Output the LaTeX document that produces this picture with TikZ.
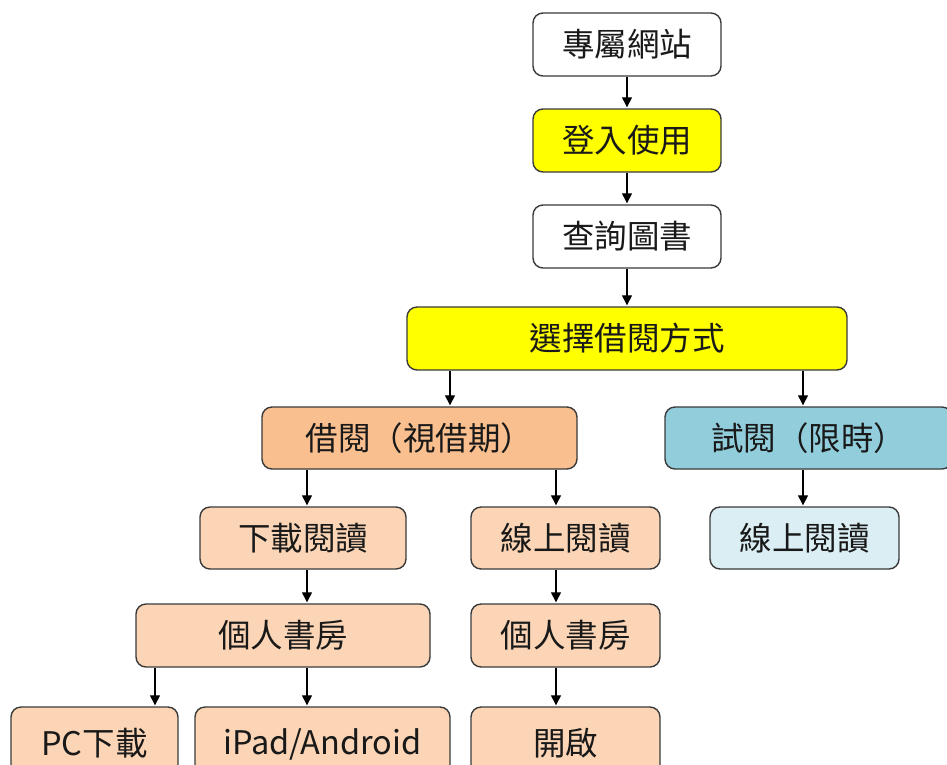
\documentclass[tikz,border=0pt]{standalone}
\usepackage{fontspec}
\setmainfont{Noto Sans CJK TC}
\usetikzlibrary{arrows.meta}
\definecolor{yel}{HTML}{FFFF00}
\definecolor{peach}{HTML}{F9BF8F}
\definecolor{lpeach}{HTML}{FBD5B5}
\definecolor{blu}{HTML}{92CDDC}
\definecolor{lblu}{HTML}{DAEEF3}
\definecolor{edge}{HTML}{3A3A3A}
\tikzset{
  box/.style={draw=edge, line width=1.4pt, rounded corners=10pt, inner sep=0pt,
    font=\fontsize{32.5}{36}\selectfont, text=black!90, fill=white},
  arr/.style={draw=black, line width=1.3pt, -{Triangle[length=10pt,width=10pt]}, shorten >=1pt}
}
\newcommand{\bx}[7]{% name, x1, y1, x2, y2, fill, text
  \node[box, fill=#6, minimum width={#4-#2}, minimum height={#5-#3}] (#1) at ({(#2+#4)/2},{(#3+#5)/2}) {#7};}
\begin{document}
\begin{tikzpicture}[x=1pt,y=-1pt]
\useasboundingbox (0,0) rectangle (947,764);
\bx{web}{533}{13}{721}{76}{white}{專屬網站}
\bx{login}{533}{109}{721}{172}{yel}{登入使用}
\bx{search}{533}{205}{721}{268}{white}{查詢圖書}
\bx{sel}{407}{307}{847}{370}{yel}{選擇借閱方式}
\bx{bor}{262}{407}{577}{469}{peach}{借閱（視借期）}
\bx{trial}{665}{407}{952}{469}{blu}{試閱（限時）}
\bx{dl}{200}{507}{406}{569}{lpeach}{下載閱讀}
\bx{onl}{471}{507}{660}{569}{lpeach}{線上閱讀}
\bx{onr}{710}{507}{899}{569}{lblu}{線上閱讀}
\bx{libl}{136}{604}{430}{667}{lpeach}{個人書房}
\bx{libr}{471}{604}{660}{667}{lpeach}{個人書房}
\bx{pc}{11}{707}{178}{790}{lpeach}{\raisebox{13pt}{PC下載}}
\bx{ipad}{195}{707}{450}{790}{lpeach}{\raisebox{13pt}{iPad/Android}}
\bx{open}{471}{707}{660}{790}{lpeach}{\raisebox{13pt}{開啟}}
\coordinate (xa) at (450,0);
\coordinate (xb) at (803,0);
\coordinate (xc) at (307,0);
\coordinate (xd) at (556,0);
\coordinate (xe) at (155,0);
\draw[arr] (web.south) -- (login.north);
\draw[arr] (login.south) -- (search.north);
\draw[arr] (search.south) -- (search.south |- sel.north);
\draw[arr] (sel.south -| xa) -- (bor.north -| xa);
\draw[arr] (sel.south -| xb) -- (trial.north -| xb);
\draw[arr] (bor.south -| xc) -- (dl.north -| xc);
\draw[arr] (bor.south -| xd) -- (onl.north -| xd);
\draw[arr] (trial.south -| xb) -- (onr.north -| xb);
\draw[arr] (dl.south -| xc) -- (libl.north -| xc);
\draw[arr] (onl.south -| xd) -- (libr.north -| xd);
\draw[arr] (libl.south -| xe) -- (pc.north -| xe);
\draw[arr] (libl.south -| xc) -- (ipad.north -| xc);
\draw[arr] (libr.south -| xd) -- (open.north -| xd);
\end{tikzpicture}
\end{document}
